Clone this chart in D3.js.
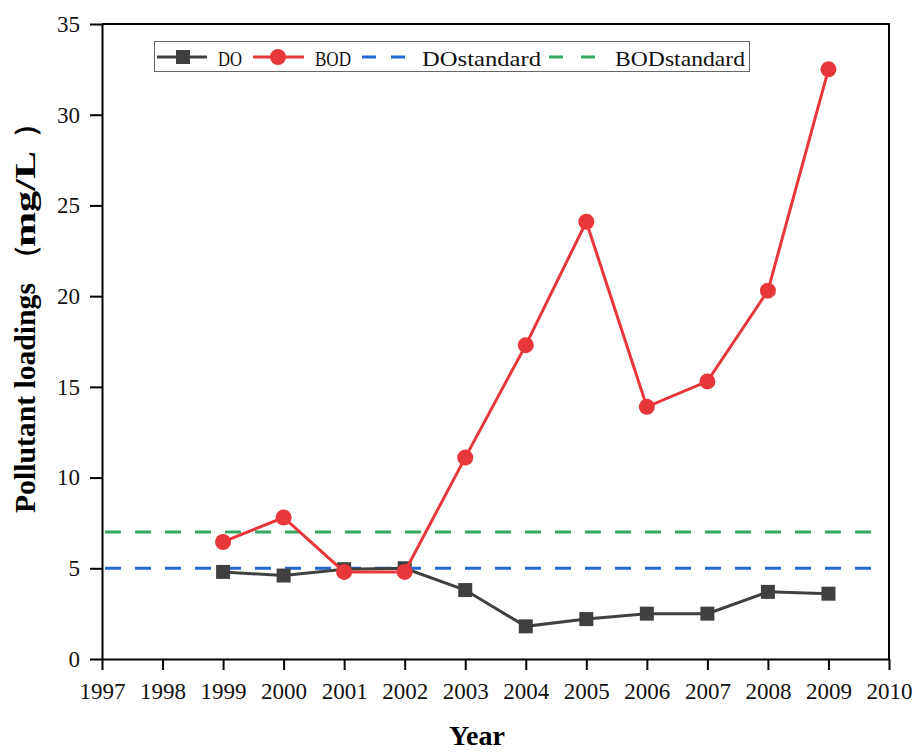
<!DOCTYPE html>
<html>
<head>
<meta charset="utf-8">
<script src="https://cdn.jsdelivr.net/npm/d3@7/dist/d3.min.js"></script>
<style>
  html, body { margin: 0; padding: 0; background: #ffffff; }
  svg { display: block; }
</style>
</head>
<body>
<svg id="chart" width="915" height="752"></svg>
<script>
// ---- data ----
const years = [1999, 2000, 2001, 2002, 2003, 2004, 2005, 2006, 2007, 2008, 2009];
const doValues = [4.8, 4.6, 4.95, 5.0, 3.8, 1.8, 2.2, 2.5, 2.5, 3.7, 3.6];
const bodValues = [6.45, 7.8, 4.8, 4.8, 11.1, 17.3, 24.1, 13.9, 15.3, 20.3, 32.5];
const doStandard = 5;
const bodStandard = 7;
const standardSpan = [1997, 2010];
const xTicks = [1997, 1998, 1999, 2000, 2001, 2002, 2003, 2004, 2005, 2006, 2007, 2008, 2009, 2010];
const yTicks = [0, 5, 10, 15, 20, 25, 30, 35];
const legendLabels = ["DO", "BOD", "DOstandard", "BODstandard"];

// ---- layout ----
const svg = d3.select("#chart");
const mLeft = 102, mRight = 889, mTop = 24, mBottom = 659;
const x = d3.scaleLinear().domain([1997, 2010]).range([mLeft, mRight]);
const y = d3.scaleLinear().domain([0, 35]).range([mBottom, mTop]);

const colDO = "#404040", colBOD = "#e8373a", colDOs = "#2468d6", colBODs = "#34a85e";
const serif = "'Liberation Serif', 'Times New Roman', serif";

// frame (top & right)
svg.append("path")
  .attr("d", `M${mLeft},${mTop}H${mRight}V${mBottom}`)
  .attr("fill", "none").attr("stroke", "#000").attr("stroke-width", 2);

// axes
const xAxis = svg.append("g").attr("transform", `translate(0,${mBottom})`)
  .call(d3.axisBottom(x).tickValues(xTicks).tickFormat(d3.format("d")).tickSize(11).tickSizeOuter(0).tickPadding(13));
const yAxis = svg.append("g").attr("transform", `translate(${mLeft},0)`)
  .call(d3.axisLeft(y).tickValues(yTicks).tickSize(12).tickSizeOuter(0).tickPadding(10));
[xAxis, yAxis].forEach(g => {
  g.select(".domain").attr("stroke", "#000").attr("stroke-width", 2);
  g.selectAll(".tick line").attr("stroke", "#000").attr("stroke-width", 2);
  g.selectAll(".tick text").attr("fill", "#111").style("font-family", serif).style("font-size", "23px");
});

// standard lines
function stdLine(val, col) {
  svg.append("line")
    .attr("x1", x(standardSpan[0]) + 3).attr("x2", x(standardSpan[1]) - 14)
    .attr("y1", y(val)).attr("y2", y(val))
    .attr("stroke", col).attr("stroke-width", 3)
    .attr("stroke-dasharray", "16 14");
}
stdLine(bodStandard, colBODs);
stdLine(doStandard, colDOs);

// series lines
const line = d3.line().x((d, i) => x(years[i])).y(d => y(d));
svg.append("path").datum(doValues).attr("d", line)
  .attr("fill", "none").attr("stroke", colDO).attr("stroke-width", 3);
svg.selectAll(".doMark").data(doValues).enter().append("rect")
  .attr("x", (d, i) => x(years[i]) - 7).attr("y", d => y(d) - 7)
  .attr("width", 14).attr("height", 14).attr("fill", colDO);

svg.append("path").datum(bodValues).attr("d", line)
  .attr("fill", "none").attr("stroke", colBOD).attr("stroke-width", 3);
svg.selectAll(".bodMark").data(bodValues).enter().append("circle")
  .attr("cx", (d, i) => x(years[i])).attr("cy", d => y(d))
  .attr("r", 8).attr("fill", colBOD);

// legend
const lg = svg.append("g");
lg.append("rect").attr("x", 154.5).attr("y", 41.5).attr("width", 595).attr("height", 30)
  .attr("fill", "#fff").attr("stroke", "#666").attr("stroke-width", 1);
const ly = 57;
// DO
lg.append("line").attr("x1", 157).attr("x2", 207).attr("y1", ly).attr("y2", ly)
  .attr("stroke", colDO).attr("stroke-width", 3);
lg.append("rect").attr("x", 176).attr("y", ly - 7).attr("width", 14).attr("height", 14).attr("fill", colDO);
// BOD
lg.append("line").attr("x1", 253).attr("x2", 304).attr("y1", ly).attr("y2", ly)
  .attr("stroke", colBOD).attr("stroke-width", 3);
lg.append("circle").attr("cx", 278).attr("cy", ly).attr("r", 8).attr("fill", colBOD);
// standards
lg.append("line").attr("x1", 362).attr("x2", 406).attr("y1", ly).attr("y2", ly)
  .attr("stroke", colDOs).attr("stroke-width", 3).attr("stroke-dasharray", "14 15");
lg.append("line").attr("x1", 549).attr("x2", 597).attr("y1", ly).attr("y2", ly)
  .attr("stroke", colBODs).attr("stroke-width", 3).attr("stroke-dasharray", "14 18");
const textPos = [[218, 24], [315, 36], [422, 119], [615, 130]];
legendLabels.forEach((t, i) => {
  lg.append("text").attr("x", textPos[i][0]).attr("y", 66)
    .attr("textLength", textPos[i][1]).attr("lengthAdjust", "spacingAndGlyphs")
    .style("font-family", serif).style("font-size", "22px").attr("fill", "#111").text(t);
});

// axis titles
svg.append("text").attr("x", 477).attr("y", 745).attr("text-anchor", "middle")
  .style("font-family", serif).style("font-weight", "bold").style("font-size", "28px")
  .attr("fill", "#000").text("Year");
const yt = svg.append("g").attr("transform", "translate(35,513) rotate(-90)");
const ytStyle = s => s.style("font-family", serif).style("font-weight", "bold")
  .style("font-size", "29px").attr("fill", "#000");
yt.append("text").attr("x", 0).attr("y", 0)
  .attr("textLength", 230).attr("lengthAdjust", "spacingAndGlyphs")
  .call(ytStyle).text("Pollutant loadings");
yt.append("text").attr("x", 240).attr("y", 0).call(ytStyle).text("（");
yt.append("text").attr("x", 266).attr("y", 0)
  .attr("textLength", 96).attr("lengthAdjust", "spacingAndGlyphs")
  .call(ytStyle).text("mg/L");
yt.append("text").attr("x", 404).attr("y", 0).attr("text-anchor", "end").call(ytStyle).text("）");
</script>
</body>
</html>
